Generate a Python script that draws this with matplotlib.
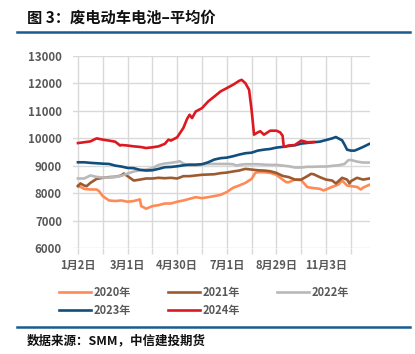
import numpy as np
import matplotlib
matplotlib.use('Agg')
import matplotlib.pyplot as plt
from matplotlib.lines import Line2D

plt.rcParams['font.family'] = ['Noto Sans CJK SC', 'DejaVu Sans']

# trading-day index (0 = 1月2日) and average price
x2020 = [0, 5, 10, 15, 17, 20, 25, 30, 35, 40, 45, 50, 51, 55, 60, 65, 70, 75, 80, 85, 90, 95, 100, 105,
         110, 115, 120, 125, 130, 135, 140, 143, 145, 150, 155, 160, 165, 168, 170, 175, 180, 185, 190,
         195, 198, 200, 205, 210, 213, 217, 220, 225, 228, 230, 235]
y2020 = [8275, 8150, 8130, 8130, 8070, 7890, 7730, 7710, 7730, 7685, 7710, 7770, 7525, 7430, 7525,
         7560, 7620, 7620, 7685, 7730, 7790, 7850, 7815, 7850, 7890, 7935, 8035, 8190, 8275, 8370,
         8515, 8735, 8760, 8760, 8735, 8665, 8490, 8395, 8395, 8490, 8470, 8215, 8180, 8155, 8095,
         8130, 8225, 8310, 8455, 8275, 8250, 8225, 8130, 8200, 8300]

x2021 = [0, 2, 5, 7, 10, 15, 20, 25, 30, 35, 37, 40, 45, 50, 55, 60, 65, 70, 75, 80, 85, 90, 95, 100,
         105, 110, 115, 120, 125, 130, 135, 140, 145, 150, 155, 160, 165, 170, 175, 180, 185, 188, 190,
         195, 200, 205, 208, 210, 213, 217, 219, 220, 225, 230, 235]
y2021 = [8250, 8350, 8275, 8250, 8370, 8515, 8555, 8580, 8590, 8640, 8710, 8615, 8455, 8490, 8530,
         8530, 8555, 8540, 8555, 8530, 8615, 8615, 8640, 8665, 8675, 8685, 8725, 8745, 8785, 8820,
         8880, 8855, 8830, 8820, 8795, 8735, 8625, 8580, 8490, 8490, 8615, 8700, 8685, 8580, 8490,
         8455, 8350, 8430, 8555, 8490, 8350, 8430, 8555, 8490, 8530]

x2022 = [0, 5, 10, 15, 20, 25, 30, 35, 40, 45, 50, 55, 60, 65, 70, 75, 80, 82, 85, 90, 95, 100, 105,
         110, 115, 120, 125, 128, 130, 135, 140, 145, 150, 155, 160, 165, 170, 175, 180, 185, 190,
         195, 200, 205, 210, 215, 218, 220, 225, 230, 235]
y2022 = [8530, 8530, 8640, 8590, 8565, 8565, 8590, 8625, 8710, 8785, 8830, 8855, 8905, 9025, 9075,
         9100, 9135, 9160, 9075, 9000, 9000, 9035, 9060, 9060, 9060, 9060, 9050, 9000, 9025, 9050,
         9050, 9050, 9035, 9025, 9025, 9000, 8975, 8930, 8930, 8955, 8955, 8965, 8965, 8990, 9010,
         9060, 9195, 9205, 9145, 9110, 9110]

x2023 = [0, 5, 10, 15, 20, 25, 30, 35, 40, 45, 50, 55, 60, 65, 70, 75, 80, 85, 90, 95, 100, 105, 110,
         115, 120, 125, 130, 135, 140, 145, 150, 155, 160, 165, 170, 175, 180, 185, 190, 195, 200,
         205, 208, 210, 213, 215, 217, 220, 223, 225, 230, 235]
y2023 = [9120, 9120, 9100, 9085, 9070, 9060, 9000, 8965, 8915, 8905, 8845, 8820, 8830, 8880, 8940,
         8950, 8975, 9010, 9035, 9035, 9050, 9120, 9220, 9270, 9290, 9340, 9400, 9450, 9470, 9545,
         9580, 9605, 9655, 9680, 9715, 9740, 9800, 9825, 9850, 9870, 9930, 9990, 10040, 9990, 9920,
         9760, 9580, 9545, 9545, 9580, 9680, 9790]

x2024 = [0, 5, 10, 15, 20, 25, 30, 34, 35, 40, 45, 50, 55, 60, 65, 70, 73, 75, 80, 85, 88, 90, 92, 95,
         100, 105, 110, 115, 120, 125, 130, 132, 135, 138, 140, 142, 145, 147, 150, 155, 160, 163,
         165, 166, 170, 175, 180, 185, 190]
y2024 = [9820, 9850, 9880, 9990, 9945, 9910, 9870, 9730, 9750, 9730, 9700, 9680, 9640, 9665, 9700,
         9790, 9945, 9910, 10030, 10370, 10700, 10850, 10730, 10970, 11090, 11335, 11515, 11700,
         11820, 11940, 12085, 12120, 12000, 11760, 11030, 10125, 10210, 10250, 10125, 10270, 10270,
         10210, 10090, 9680, 9730, 9750, 9910, 9850, 9860]

series = [
    ('2020年', x2020, y2020, '#FF8A56'),
    ('2021年', x2021, y2021, '#9C5B2E'),
    ('2022年', x2022, y2022, '#B9B9B9'),
    ('2023年', x2023, y2023, '#114E7C'),
    ('2024年', x2024, y2024, '#DD1820'),
]

tick_pos = list(range(0, 221, 20))
tick_txt = ['1月2日', '', '3月1日', '', '4月30日', '', '7月1日', '', '8月29日', '', '11月3日', '']

fig = plt.figure(figsize=(4.15, 3.54), dpi=100)
ax = fig.add_axes([73 / 415, 1 - 248 / 354, 297 / 415, 192.3 / 354])

lines = {}
for name, xs, ys, col in series:
    lines[name], = ax.plot(xs, ys, color=col, lw=1.9, solid_joinstyle='round')

ax.set_xlim(-4, 235.5)
ax.set_ylim(6000, 13000)
ax.set_yticks(range(6000, 13001, 1000))
ax.set_xticks(tick_pos)
ax.set_xticklabels(tick_txt)
ax.grid(True, color='#D9D9D9', lw=1.0)
ax.set_axisbelow(True)
for s in ax.spines.values():
    s.set_visible(False)
ax.tick_params(axis='y', length=0, pad=8, labelsize=8.3, labelcolor='#595959')
ax.tick_params(axis='x', length=4, color='#D9D9D9', width=1.0, pad=4, labelsize=8,
               labelcolor='#595959')
for t in ax.get_yticklabels() + ax.get_xticklabels():
    t.set_fontweight('bold')

# legend, row-major order like the original
order = ['2020年', '2023年', '2021年', '2024年', '2022年']
leg = fig.legend([lines[k] for k in order], order, loc='upper left',
                 bbox_to_anchor=(53 / 415, 1 - 280 / 354), ncol=3, frameon=False,
                 fontsize=8, handlelength=2.9, handletextpad=0.25, columnspacing=3.3,
                 labelspacing=0.45, borderpad=0)
for t in leg.get_texts():
    t.set_color('#595959')
    t.set_fontweight('bold')

# title and rules
fig.text(27 / 415, 1 - 18 / 354, '图 3：废电动车电池–平均价', fontsize=11, fontweight='bold',
         va='center', ha='left', color='#111111')
fig.add_artist(Line2D([17 / 415, 410 / 415], [1 - 32 / 354] * 2, color='#1B5A8C', lw=1.8))
fig.add_artist(Line2D([17 / 415, 410 / 415], [1 - 326.5 / 354] * 2, color='#1B5A8C', lw=1.8))
fig.text(27 / 415, 1 - 341 / 354, '数据来源：SMM，中信建投期货', fontsize=9, fontweight='bold',
         style='italic', va='center', ha='left', color='#111111')

fig.savefig('out.png', dpi=100)
